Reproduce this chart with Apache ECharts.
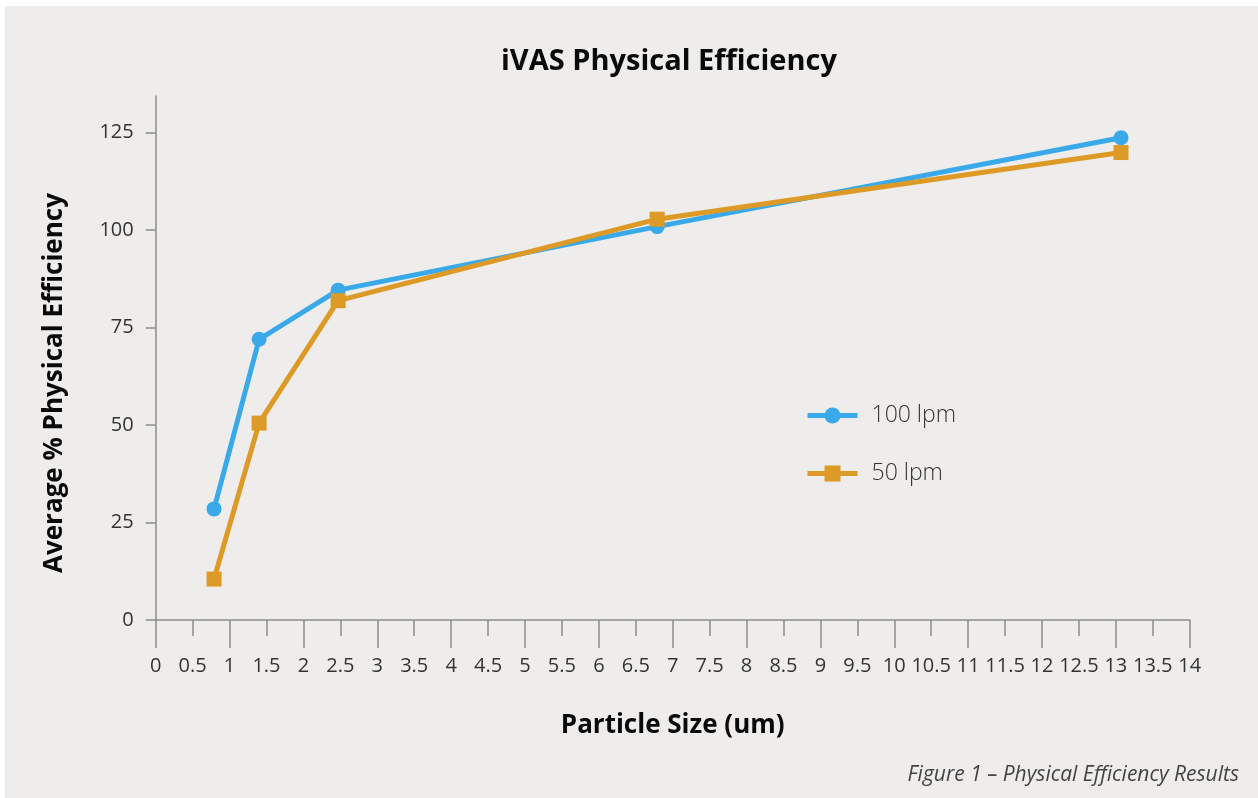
<!DOCTYPE html>
<html>
<head>
<meta charset="utf-8">
<script src="https://cdn.jsdelivr.net/npm/echarts@6/dist/echarts.min.js"></script>
<style>
  html, body { margin: 0; padding: 0; background: #ffffff; }
  #panel { position: absolute; left: 5px; top: 6px; width: 1253px; height: 792px; background: #eeedeb; }
  #chart { position: absolute; left: 0; top: 0; width: 1258px; height: 798px; }
</style>
</head>
<body>
<div id="panel"></div>
<div id="chart"></div>
<script>
const particleSize = [0.79, 1.4, 2.47, 6.79, 13.07];
const eff100 = [28.5, 72.0, 84.6, 100.9, 123.7];
const eff50 = [10.5, 50.5, 81.9, 102.8, 119.9];
const seriesNames = ['100 lpm', '50 lpm'];
const yTicks = [0, 25, 50, 75, 100, 125];

const chart = echarts.init(document.getElementById('chart'), null, { renderer: 'canvas' });
const font = '"Open Sans", "Noto Sans", sans-serif';
const axisGray = '#8c8c8c';

chart.setOption({
  backgroundColor: 'transparent',
  animation: false,
  title: [
    {
      text: 'iVAS Physical Efficiency',
      left: 496,
      top: 42,
      textStyle: { fontFamily: font, fontSize: 29, fontWeight: 'bold', color: '#0a0a0a' }
    },
    {
      text: 'Figure 1 – Physical Efficiency Results',
      right: 14,
      top: 760,
      textStyle: { fontFamily: font, fontSize: 21, fontStyle: 'italic', fontWeight: 'normal', color: '#444' }
    }
  ],
  graphic: [{
    type: 'text',
    x: 55,
    y: 383,
    rotation: Math.PI / 2,
    style: {
      text: 'Average % Physical Efficiency',
      font: 'bold 26px ' + font,
      fill: '#0a0a0a',
      textAlign: 'center',
      textVerticalAlign: 'middle'
    }
  }],
  legend: {
    orient: 'vertical',
    left: 800,
    top: 399,
    itemWidth: 50,
    itemHeight: 20,
    itemGap: 35,
    lineStyle: { width: 5 },
    textStyle: { fontFamily: font, fontSize: 23, color: '#333', fontWeight: 300, padding: [0, 0, 0, 9] },
    data: seriesNames
  },
  grid: { left: 155.7, right: 68.3, top: 96, bottom: 178, containLabel: false },
  xAxis: [
    {
      type: 'value',
      min: 0,
      max: 14,
      interval: 0.5,
      name: 'Particle Size (um)',
      nameLocation: 'middle',
      nameGap: 93,
      nameTextStyle: { fontFamily: font, fontSize: 26, fontWeight: 'bold', color: '#0a0a0a' },
      axisLine: { show: true, lineStyle: { color: axisGray, width: 1.5 } },
      axisTick: { show: true, length: 16, lineStyle: { color: axisGray, width: 1.5 } },
      axisLabel: { fontFamily: font, fontSize: 20, color: '#333', margin: 36,
        formatter: v => String(v) },
      splitLine: { show: false }
    },
    {
      type: 'value',
      min: 0,
      max: 14,
      interval: 1,
      position: 'bottom',
      axisLine: { show: false },
      axisTick: { show: true, length: 28, lineStyle: { color: axisGray, width: 1.5 } },
      axisLabel: { show: false },
      splitLine: { show: false }
    }
  ],
  yAxis: {
    type: 'value',
    min: 0,
    max: 134.4,
    interval: 25,
    axisLine: { show: true, lineStyle: { color: axisGray, width: 1.5 } },
    axisTick: { show: true, length: 10, customValues: yTicks, lineStyle: { color: axisGray, width: 1.5 } },
    axisLabel: { fontFamily: font, fontSize: 20, color: '#333', margin: 22, customValues: yTicks },
    splitLine: { show: false }
  },
  series: [
    {
      name: seriesNames[0],
      type: 'line',
      xAxisIndex: 0,
      data: particleSize.map((x, i) => [x, eff100[i]]),
      symbol: 'circle',
      symbolSize: 15,
      lineStyle: { width: 5, color: '#3aa9ea' },
      itemStyle: { color: '#3aa9ea' },
      z: 2
    },
    {
      name: seriesNames[1],
      type: 'line',
      xAxisIndex: 0,
      data: particleSize.map((x, i) => [x, eff50[i]]),
      symbol: 'rect',
      symbolSize: 15,
      lineStyle: { width: 5, color: '#dd9a27' },
      itemStyle: { color: '#dd9a27' },
      z: 3
    }
  ]
});
</script>
</body>
</html>
